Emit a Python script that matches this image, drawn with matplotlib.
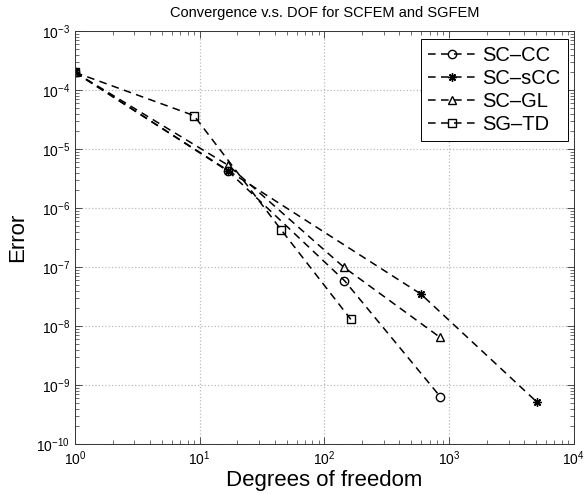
import numpy as np
from matplotlib import pyplot as plt

# values
dof_cc = [1, 17, 145, 849]
err_cc = [2.0e-4, 4.2e-6, 5.9e-8, 6.4e-10]

dof_scc = [1, 17, 594, 5050]
err_scc = [2.0e-4, 4.3e-6, 3.5e-8, 5.2e-10]

dof_gl = [1, 17, 143, 843]
err_gl = [2.0e-4, 5.3e-6, 1.0e-7, 6.5e-9]

dof_td = [1, 9, 45, 163]
err_td = [2.0e-4, 3.7e-5, 4.3e-7, 1.3e-8]

labels = ['SC–CC', 'SC–sCC', 'SC–GL', 'SG–TD']
markers = ['o', (8, 2, 0), '^', 's']


def main():
    plt.rcParams['font.family'] = ['Liberation Sans', 'DejaVu Sans']
    plt.rcParams['mathtext.default'] = 'regular'

    fig = plt.figure(figsize=(5.86, 4.94), dpi=100)
    ax = fig.add_axes([0.128, 0.101, 0.851, 0.836])

    series = [(dof_cc, err_cc), (dof_scc, err_scc), (dof_gl, err_gl), (dof_td, err_td)]
    for (x, y), lab, m in zip(series, labels, markers):
        ax.plot(x, y, color='black', linestyle='--', dashes=(5, 3.5), linewidth=1.1,
                marker=m, markersize=6, markerfacecolor='none',
                markeredgecolor='black', markeredgewidth=1.0, label=lab)

    ax.set_xscale('log')
    ax.set_yscale('log')
    ax.set_xlim(1, 1e4)
    ax.set_ylim(1e-10, 1e-3)
    ax.set_xticks([1, 1e1, 1e2, 1e3, 1e4])
    ax.set_yticks([10.0 ** k for k in range(-10, -2)])

    ax.grid(True, which='major', linestyle=':', color='#bbbbbb', linewidth=0.9)
    ax.tick_params(which='both', direction='in', top=True, right=True,
                   labelsize=10, color='#333333')
    ax.tick_params(which='major', length=5, width=0.6)
    ax.tick_params(which='minor', length=3, width=0.5)
    for s in ax.spines.values():
        s.set_linewidth(0.7)
        s.set_color('#333333')

    ax.set_title('Convergence v.s. DOF for SCFEM and SGFEM', fontsize=10.5, pad=10)
    ax.set_xlabel('Degrees of freedom', fontsize=16, labelpad=2)
    ax.set_ylabel('Error', fontsize=16, labelpad=6)

    leg = ax.legend(loc='upper right', bbox_to_anchor=(0.988, 0.981), borderaxespad=0,
                    fontsize=14.5, fancybox=False, framealpha=1, edgecolor='black',
                    handlelength=2.4, handletextpad=0.3, labelspacing=0.2,
                    borderpad=0.35, numpoints=1)
    leg.get_frame().set_linewidth(0.7)

    fig.savefig('out.png', dpi=100)


if __name__ == "__main__":
    main()
